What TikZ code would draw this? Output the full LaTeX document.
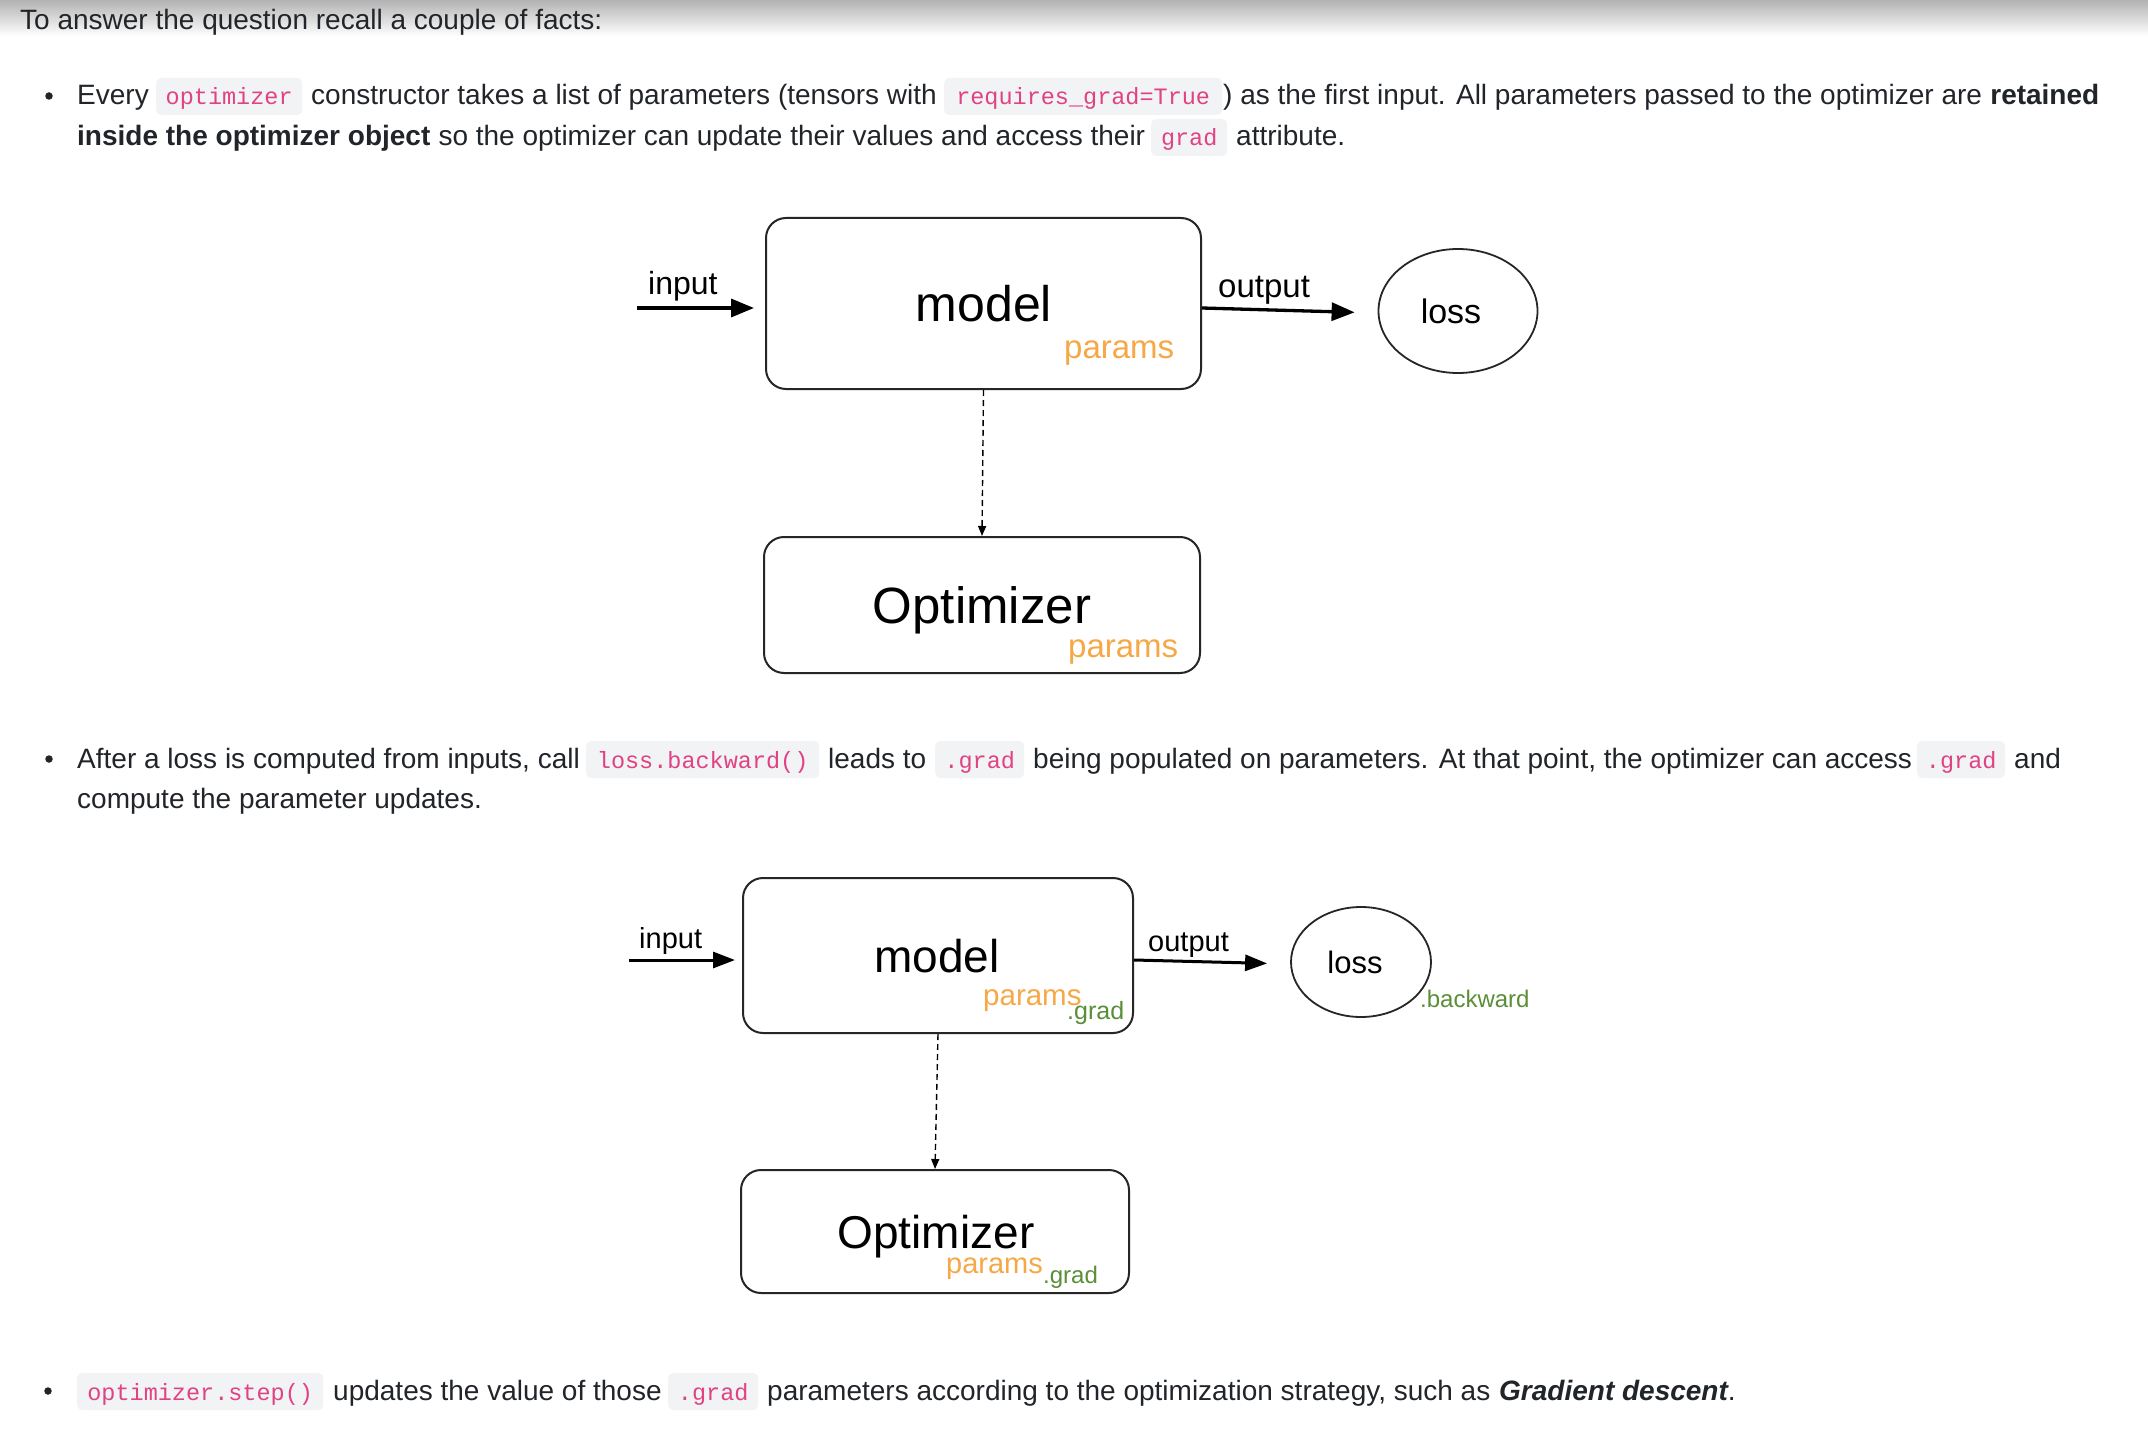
\documentclass[tikz,border=0pt]{standalone}
\usepackage{fontspec}
\setmainfont{Liberation Sans}
\newfontfamily\monofnt{Liberation Mono}
\usetikzlibrary{arrows.meta,shapes.geometric,calc}
\newcommand\fsz[1]{\fontsize{#1bp}{#1bp}\selectfont}
\definecolor{textc}{RGB}{33,37,41}
\definecolor{codebg}{RGB}{242,243,244}
\definecolor{codefg}{RGB}{224,66,132}
\definecolor{orng}{RGB}{246,168,70}
\definecolor{grn}{RGB}{90,142,56}
\tikzset{
  txt/.style={anchor=base west, inner sep=0pt, font=\fsz{28}, text=textc},
  code/.style={anchor=base west, fill=codebg, rounded corners=5bp, text=codefg,
    font=\monofnt\fsz{23.5}, inner xsep=0pt, inner ysep=0pt,
    text height=27bp, text depth=10bp, align=center},
  bul/.style={circle, fill=textc, inner sep=0pt, minimum size=7.5bp},
  box/.style={draw=black!85, line width=2bp, rounded corners=20bp, inner sep=0pt},
  lossnode/.style={draw=black!85, line width=1.8bp, ellipse, inner sep=0pt},
  dlab/.style={anchor=base west, inner sep=0pt, text=black},
  bigarrow/.style={line width=3.3bp, -{Triangle[length=23bp,width=18bp]}},
  midarrow/.style={line width=3bp, -{Triangle[length=22bp,width=16bp]}},
  dasharrow/.style={line width=1.4bp, dash pattern=on 6bp off 4bp, -{Triangle[length=10bp,width=8bp]}}
}
\begin{document}
\begin{tikzpicture}[x=1bp,y=-1bp]
\useasboundingbox (0,0) rectangle (2148,1440);
\fill[white] (0,0) rectangle (2148,1440);
\shade[top color=black!30, bottom color=white] (0,0) rectangle (2148,36);

% ---------- top line
\node[txt] (intro) at (20,30) {To answer the question recall a couple of facts:};

% ---------- bullet 1
\node[bul] (b1) at (49,96) {};
\node[txt] (l1a) at (77,105) {Every};
\node[code, minimum width=146bp] (c1) at (156,105) {optimizer};
\node[txt] (l1b) at (311,105) {constructor takes a list of parameters (tensors with};
\node[code, minimum width=278bp] (c2) at (944,105) {requires\_grad=True};
\node[txt] (l1c) at (1223,105) {) as the first input. All parameters passed to the optimizer are};
\node[txt, font=\fsz{28}\bfseries] (l1d) at ([xshift=7.8bp]l1c.base east) {retained};
\node[txt, font=\fsz{28}\bfseries] (l2a) at (77,146) {inside the optimizer object};
\node[txt] (l2b) at ([xshift=7.8bp]l2a.base east) {so the optimizer can update their values and access their};
\node[code, minimum width=76bp] (c3) at (1151,146) {grad};
\node[txt] (l2c) at (1236,146) {attribute.};

% ---------- diagram 1
\node[box, minimum width=435bp, minimum height=171bp] (model1) at (983.5,303.5) {};
\node[dlab, anchor=base, font=\fsz{50}] (model1t) at (984,322) {model};
\node[dlab, font=\fsz{33}, text=orng] (model1p) at (1064,358) {params};
\node[box, minimum width=436bp, minimum height=136bp] (opt1) at (982,605) {};
\node[dlab, anchor=base, font=\fsz{51}] (opt1t) at (982,623) {Optimizer};
\node[dlab, font=\fsz{33}, text=orng] (opt1p) at (1068,657) {params};
\node[lossnode, minimum width=159bp, minimum height=124bp] (loss1) at (1458,311) {};
\node[dlab, anchor=base, font=\fsz{34}] (loss1t) at (1451,323) {loss};
\coordinate (in1) at (637,308);
\node[dlab, font=\fsz{32}] (in1t) at (648,295) {input};
\node[dlab, font=\fsz{33}] (out1t) at (1218,298) {output};
\draw[bigarrow, shorten >=11bp] (in1) -- (model1.west |- in1);
\draw[bigarrow, shorten >=23bp] ($(model1.east)+(0,4.5)$) -- ($(loss1.west)+(0,2)$);
\draw[dasharrow] (model1.south) -- (opt1.north);

% ---------- bullet 2
\node[bul] (b2) at (49,759) {};
\node[txt] (m1a) at (77,768) {After a loss is computed from inputs, call};
\node[code, minimum width=233bp] (c4) at (586,768) {loss.backward()};
\node[txt] (m1b) at (828,768) {leads to};
\node[code, minimum width=89bp] (c5) at (935,768) {.grad};
\node[txt] (m1c) at (1033,768) {being populated on parameters. At that point, the optimizer can access};
\node[code, minimum width=88bp] (c6) at (1917,768) {.grad};
\node[txt] (m1d) at (2014,768) {and};
\node[txt] (m2a) at (77,808) {compute the parameter updates.};

% ---------- diagram 2
\node[box, minimum width=390bp, minimum height=155bp] (model2) at (938,955.5) {};
\node[dlab, anchor=base, font=\fsz{46}] (model2t) at (937,972) {model};
\node[dlab, font=\fsz{29.5}, text=orng] (model2p) at (983,1005) {params};
\node[dlab, font=\fsz{25}, text=grn] (model2g) at (1067,1019) {.grad};
\node[box, minimum width=388bp, minimum height=123bp] (opt2) at (935,1231.5) {};
\node[dlab, anchor=base, font=\fsz{46}] (opt2t) at (936,1248) {Optimizer};
\node[dlab, font=\fsz{29}, text=orng] (opt2p) at (946,1273) {params};
\node[dlab, font=\fsz{24}, text=grn] (opt2g) at (1043,1283) {.grad};
\node[lossnode, minimum width=140bp, minimum height=110bp] (loss2) at (1361,962) {};
\node[dlab, anchor=base, font=\fsz{31}] (loss2t) at (1355,973) {loss};
\node[dlab, font=\fsz{24}, text=grn] (loss2b) at (1420,1007) {.backward};
\coordinate (in2) at (629,960);
\node[dlab, font=\fsz{29}] (in2t) at (639,948) {input};
\node[dlab, font=\fsz{29}] (out2t) at (1148,951) {output};
\draw[midarrow, shorten >=7bp] (in2) -- (model2.west |- in2);
\draw[midarrow, shorten >=23bp] ($(model2.east)+(0,4.5)$) -- ($(loss2.west)+(0,2)$);
\draw[dasharrow] (model2.south) -- (opt2.north);

% ---------- bullet 3
\node[bul] (b3) at (48,1391) {};
\node[code, minimum width=246bp] (c7) at (77,1400) {optimizer.step()};
\node[txt] (n1a) at (333,1400) {updates the value of those};
\node[code, minimum width=90bp] (c8) at (668,1400) {.grad};
\node[txt] (n1b) at (767,1400) {parameters according to the optimization strategy, such as};
\node[txt] (n1c) at (1499,1400) {{\bfseries\itshape Gradient descent}.};
\end{tikzpicture}
\end{document}
